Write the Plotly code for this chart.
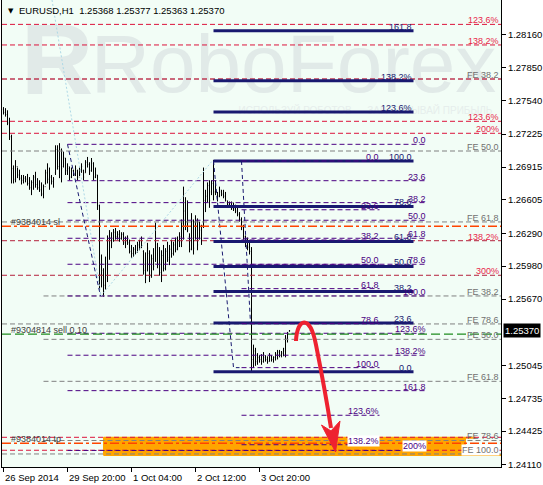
import plotly.graph_objects as go

# ---------------- data ----------------
bar_open = [
1.2746,1.2743,1.2741,1.2733,1.2720,1.2690,1.2680,1.2692,1.2684,1.2681,
1.2679,1.2681,1.2680,1.2676,1.2672,1.2677,1.2682,1.2675,1.2672,1.2670,
1.2666,1.2673,1.2686,1.2680,1.2682,1.2678,1.2686,1.2708,1.2692,1.2708,
1.2692,1.2700,1.2688,1.2690,1.2682,1.2688,1.2685,1.2688,1.2682,1.2689,
1.2688,1.2686,1.2696,1.2694,1.2688,1.2695,1.2682,1.2684,1.2655,1.2590,
1.2594,1.2580,1.2600,1.2622,1.2625,1.2622,1.2630,1.2626,1.2628,1.2624,
1.2628,1.2620,1.2622,1.2620,1.2612,1.2610,1.2614,1.2611,1.2618,1.2616,
1.2612,1.2594,1.2600,1.2610,1.2590,1.2605,1.2600,1.2616,1.2600,1.2592,
1.2608,1.2596,1.2612,1.2604,1.2614,1.2610,1.2618,1.2614,1.2622,1.2626,
1.2638,1.2650,1.2640,1.2626,1.2614,1.2640,1.2625,1.2640,1.2625,1.2632,
1.2636,1.2660,1.2664,1.2674,1.2668,1.2676,1.2668,1.2667,1.2664,1.2668,
1.2666,1.2664,1.2658,1.2656,1.2655,1.2653,1.2652,1.2650,1.2647,1.2642,
1.2635,1.2626,1.2620,1.2616,1.2612,1.2510,1.2518,1.2508,1.2512,1.2510,
1.2508,1.2512,1.2510,1.2508,1.2513,1.2510,1.2512,1.2515,1.2517,1.2514,
1.2516,1.2518,1.2530,1.25368]
bar_high = [
1.2748,1.2747,1.2745,1.2738,1.2722,1.2693,1.2698,1.2691,1.2689,1.2684,
1.2684,1.2683,1.2685,1.2682,1.2679,1.2684,1.2687,1.2681,1.2679,1.2677,
1.2675,1.2689,1.2695,1.2691,1.2684,1.2682,1.2712,1.2712,1.2714,1.2709,
1.2706,1.2700,1.2695,1.2692,1.2691,1.2689,1.2693,1.2689,1.2691,1.2695,
1.2689,1.2698,1.2701,1.2696,1.2700,1.2696,1.2691,1.2684,1.2656,1.2609,
1.2596,1.2607,1.2627,1.2632,1.2630,1.2633,1.2634,1.2631,1.2632,1.2630,
1.2630,1.2626,1.2627,1.2623,1.2618,1.2616,1.2618,1.2621,1.2623,1.2626,
1.2613,1.2611,1.2620,1.2613,1.2609,1.2615,1.2639,1.2620,1.2616,1.2613,
1.2618,1.2615,1.2621,1.2618,1.2623,1.2621,1.2625,1.2626,1.2630,1.2642,
1.2673,1.2663,1.2660,1.2629,1.2648,1.2642,1.2646,1.2643,1.2640,1.2637,
1.2691,1.2670,1.2677,1.2679,1.2679,1.2698,1.2679,1.2668,1.2673,1.2670,
1.2670,1.2668,1.2660,1.2659,1.2659,1.2658,1.2656,1.2654,1.2649,1.2644,
1.2637,1.2627,1.2625,1.2621,1.2616,1.2524,1.2521,1.2516,1.2514,1.2515,
1.2517,1.2514,1.2513,1.2516,1.2514,1.2513,1.2517,1.2519,1.2519,1.2518,
1.2521,1.2533,1.2536,1.25377]
bar_low = [
1.2741,1.2739,1.2731,1.2717,1.2676,1.2676,1.2677,1.2681,1.2679,1.2675,
1.2676,1.2677,1.2674,1.2670,1.2665,1.2670,1.2672,1.2670,1.2668,1.2664,
1.2662,1.2675,1.2676,1.2670,1.2675,1.2672,1.2684,1.2689,1.2681,1.2677,
1.2691,1.2684,1.2684,1.2679,1.2681,1.2683,1.2683,1.2679,1.2683,1.2686,
1.2679,1.2686,1.2691,1.2684,1.2687,1.2679,1.2681,1.2651,1.2576,1.2578,
1.2569,1.2576,1.2583,1.2604,1.2615,1.2621,1.2623,1.2623,1.2621,1.2623,
1.2618,1.2615,1.2618,1.2610,1.2606,1.2607,1.2609,1.2611,1.2613,1.2615,
1.2590,1.2582,1.2593,1.2583,1.2587,1.2594,1.2602,1.2596,1.2589,1.2583,
1.2593,1.2594,1.2602,1.2599,1.2606,1.2608,1.2611,1.2613,1.2616,1.2616,
1.2623,1.2632,1.2630,1.2611,1.2613,1.2609,1.2623,1.2613,1.2623,1.2618,
1.2634,1.2649,1.2658,1.2653,1.2665,1.2660,1.2665,1.2659,1.2663,1.2664,
1.2662,1.2659,1.2654,1.2653,1.2651,1.2650,1.2648,1.2645,1.2640,1.2632,
1.2623,1.2616,1.2613,1.2609,1.2498,1.2502,1.2504,1.2505,1.2507,1.2505,
1.2507,1.2508,1.2506,1.2508,1.2508,1.2507,1.2509,1.2510,1.2512,1.2512,
1.2513,1.2512,1.2526,1.25363]
bar_close = [
1.2743,1.2741,1.2733,1.2720,1.2690,1.2680,1.2692,1.2684,1.2681,1.2679,
1.2681,1.2680,1.2676,1.2672,1.2677,1.2682,1.2675,1.2672,1.2670,1.2666,
1.2673,1.2686,1.2680,1.2682,1.2678,1.2680,1.2708,1.2692,1.2710,1.2690,
1.2700,1.2688,1.2692,1.2682,1.2688,1.2685,1.2690,1.2682,1.2689,1.2692,
1.2682,1.2696,1.2694,1.2688,1.2697,1.2682,1.2684,1.2655,1.2590,1.2600,
1.2580,1.2600,1.2624,1.2625,1.2620,1.2630,1.2626,1.2628,1.2624,1.2628,
1.2620,1.2622,1.2620,1.2612,1.2610,1.2614,1.2611,1.2618,1.2616,1.2622,
1.2594,1.2600,1.2615,1.2588,1.2605,1.2598,1.2618,1.2600,1.2592,1.2608,
1.2596,1.2612,1.2606,1.2614,1.2610,1.2618,1.2614,1.2622,1.2626,1.2638,
1.2650,1.2640,1.2632,1.2614,1.2640,1.2615,1.2640,1.2618,1.2635,1.2636,
1.2660,1.2664,1.2674,1.2660,1.2676,1.2668,1.2670,1.2664,1.2670,1.2666,
1.2664,1.2660,1.2656,1.2655,1.2653,1.2652,1.2650,1.2647,1.2642,1.2635,
1.2626,1.2620,1.2616,1.2612,1.2510,1.2518,1.2508,1.2512,1.2510,1.2508,
1.2514,1.2510,1.2508,1.2514,1.2510,1.2512,1.2515,1.2517,1.2514,1.2516,
1.2520,1.2530,1.2535,1.25370]
bar_index = list(range(len(bar_close)))

y_ticks = [1.28160, 1.27850, 1.27540, 1.27225, 1.26915, 1.26605, 1.26290,
           1.25980, 1.25670, 1.25045, 1.24735, 1.24425, 1.24110]
x_tick_pos = [0, 32, 64, 96, 128]
x_tick_labels = ["26 Sep 2014", "29 Sep 20:00", "1 Oct 04:00", "2 Oct 12:00", "3 Oct 20:00"]

header = "EURUSD,H1  1.25368 1.25377 1.25363 1.25370"
current_price = 1.25370

# red fibo expansion levels (full width)
red_levels = [1.28260, 1.28066, 1.27745, 1.27346, 1.27233, 1.24366, 1.24244]
red_labels = ["123.6%", "138.2%", "", "123.6%", "200%", "", ""]
red_dark_levels = [1.26220, 1.25894]
red_dark_labels = ["138.2%", "300%"]

# grey FE levels
fe_a_levels = [1.27745, 1.27066, 1.26397, 1.25435, 1.24209]
fe_a_labels = ["FE 38.2", "FE 50.0", "FE 61.8", "FE 78.6", "FE 100.0"]
fe_b_levels = [1.25699, 1.25290, 1.24894, 1.24336]
fe_b_labels = ["FE 38.2", "FE 50.0", "FE 61.8", "FE 78.6"]

# purple fibo (from 29 Sep high)
c_levels = [1.27129, 1.26786, 1.26579, 1.26413, 1.26243, 1.25998, 1.25699,
            1.25347, 1.25140, 1.24806, 1.24242]
c_labels = ["0.0", "23.6", "38.2", "50.0", "61.8", "78.6", "100.0",
            "123.6%", "138.2%", "161.8", "200%"]

# purple fibo (from 2 Oct high)
b_levels = [1.26972, 1.26512, 1.26227, 1.25997, 1.25768, 1.25439, 1.25023,
            1.24574, 1.24296]
b_labels = ["0.0", "23.6", "38.2", "50.0", "61.8", "78.6", "100.0",
            "123.6%", "138.2%"]

# navy fibo (solid)
a_levels = [1.24985, 1.25444, 1.25740, 1.25977, 1.26213, 1.26543, 1.26972,
            1.27434, 1.27729, 1.28200]
a_labels = ["0.0", "23.6", "38.2", "50.0", "61.8", "78.6", "100.0",
            "123.6%", "138.2%", "161.8"]

sl_price = 1.26356
tp_price = 1.24310
sell_price = 1.25340
sl_text = "#9384014 sl"
tp_text = "#9384014 tp"
sell_text = "#9304814 sell 0.10"

target_zone = [1.24199, 1.24364]

# trend / anchor lines (bar index, price)
blue_trend_x = [24.25, 48.75, 104.75]
blue_trend_y = [1.28490, 1.25699, 1.26981]
anchor_lines = [
    ([32, 48.5], [1.27129, 1.25699]),
    ([105, 115, 118], [1.26972, 1.25023, 1.25023]),
    ([119, 123.5], [1.26972, 1.25444]),
]

# ---------------- figure ----------------
FONT = "Liberation Sans, Arial, sans-serif"
XMIN, XMAX = -0.75, 248.75
YMIN, YMAX = 1.24086, 1.28490

fig = go.Figure()

# target zone (below everything)
fig.add_trace(go.Scatter(x=[50, 231, 231, 50, 50],
                         y=[target_zone[0], target_zone[0], target_zone[1], target_zone[1], target_zone[0]],
                         mode="lines", fill="toself", fillcolor="#FFA500",
                         line=dict(color="#FFA500", width=1), hoverinfo="skip", showlegend=False))
fig.add_trace(go.Scatter(x=[50, 248.75], y=[target_zone[0], target_zone[0]], mode="lines",
                         line=dict(color="#FFA500", width=2), hoverinfo="skip", showlegend=False))
fig.add_trace(go.Scatter(x=[50, 236], y=[target_zone[1] - 0.00003, target_zone[1] - 0.00003], mode="lines",
                         line=dict(color="#FFA500", width=2), hoverinfo="skip", showlegend=False))

# watermark
WM = "#E1EAE8"
fig.add_trace(go.Scatter(x=[145], y=[1.27815], mode="text", text=["RoboForex"],
                         textfont=dict(size=82, color=WM, family=FONT), hoverinfo="skip", showlegend=False))
fig.add_trace(go.Scatter(x=[26.75], y=[1.27840], mode="text", text=["<b>R</b>"],
                         textfont=dict(size=100, color=WM, family=FONT), hoverinfo="skip", showlegend=False))
fig.add_trace(go.Scatter(x=[181], y=[1.27440], mode="text",
                         text=["ИСПОЛЬЗУЙ РОБОТОВ — ЗАРАБАТЫВАЙ ПРИБЫЛЬ"],
                         textfont=dict(size=10, color="#E6EEEC", family=FONT), hoverinfo="skip", showlegend=False))


def hlines(levels, x0, x1, color, dash, width):
    xs, ys = [], []
    for lv in levels:
        xs += [x0, x1, None]
        ys += [lv, lv, None]
    fig.add_trace(go.Scatter(x=xs, y=ys, mode="lines",
                             line=dict(color=color, dash=dash, width=width),
                             hoverinfo="skip", showlegend=False, connectgaps=False))


DASH = "5px,3px"
GREY = "#808080"
RED = "#DC143C"
RED_D = "#B4203C"
PURPLE = "#4B0082"
NAVY = "#191970"

hlines(fe_a_levels, XMIN, XMAX, GREY, DASH, 1)
hlines(fe_b_levels, 20, XMAX, GREY, DASH, 1)
hlines(red_levels, XMIN, XMAX, RED, DASH, 1)
hlines(red_dark_levels, XMIN, XMAX, RED_D, DASH, 1)
hlines(c_levels, 32, 211, PURPLE, DASH, 1)
hlines(a_levels, 105, 205, NAVY, "solid", 3)
hlines(b_levels, 119, 188, PURPLE, DASH, 1)

# trend lines
fig.add_trace(go.Scatter(x=blue_trend_x, y=blue_trend_y, mode="lines",
                         line=dict(color="#ADD8E6", dash="2px,2px", width=1),
                         hoverinfo="skip", showlegend=False))
for lx, ly in anchor_lines:
    fig.add_trace(go.Scatter(x=lx, y=ly, mode="lines",
                             line=dict(color=NAVY, dash="4px,3px", width=1),
                             hoverinfo="skip", showlegend=False))

# order lines
hlines([sl_price, tp_price], XMIN, XMAX, "#FF4500", "9px,3px,3px,3px", 1.4)
hlines([sell_price], XMIN, XMAX, "#1E8C1E", "9px,4px", 1.3)

# price bars
fig.add_trace(go.Ohlc(x=bar_index, open=bar_open, high=bar_high, low=bar_low, close=bar_close,
                      increasing=dict(line=dict(color="black", width=1)),
                      decreasing=dict(line=dict(color="black", width=1)),
                      tickwidth=0.3, hoverinfo="skip", showlegend=False))

ann = []


def labels(levels, texts, x, color, bg=None):
    for lv, t in zip(levels, texts):
        if not t:
            continue
        a = dict(x=x, y=lv, xref="x", yref="y", text=t, showarrow=False,
                 xanchor="right", yanchor="bottom", yshift=-2, borderpad=0,
                 font=dict(family=FONT, size=9, color=color))
        if bg:
            a["bgcolor"] = bg
        ann.append(a)


labels(a_levels, a_labels, 204.5, NAVY)
labels(b_levels[:-1], b_labels[:-1], 188, PURPLE)
labels(b_levels[-1:], b_labels[-1:], 188, PURPLE, bg="white")
labels(c_levels[:-1], c_labels[:-1], 211.5, PURPLE)
labels(c_levels[-1:], c_labels[-1:], 211.5, PURPLE, bg="white")
labels(red_levels, red_labels, 248, "#E8254A")
labels(red_dark_levels, red_dark_labels, 248, "#E8254A")
labels(fe_a_levels[:-1], fe_a_labels[:-1], 248, "#707070")
labels(fe_a_levels[-1:], fe_a_labels[-1:], 248, "#707070", bg="white")
labels(fe_b_levels, fe_b_labels, 248, "#707070")

for t, p in [(sl_text, sl_price), (sell_text, sell_price), (tp_text, tp_price)]:
    ann.append(dict(x=3.25, y=p, xref="x", yref="y", text=t, showarrow=False,
                    xanchor="left", yanchor="bottom", yshift=-2, borderpad=0,
                    font=dict(family=FONT, size=9, color="#404040")))

# header
ann.append(dict(x=0, y=1, xref="paper", yref="paper", text="▼", showarrow=False,
                xanchor="left", yanchor="top", xshift=4, yshift=-5,
                font=dict(family="DejaVu Sans", size=7, color="black")))
ann.append(dict(x=0, y=1, xref="paper", yref="paper", text=header, showarrow=False,
                xanchor="left", yanchor="top", xshift=15, yshift=-3,
                font=dict(family=FONT, size=9.5, color="black")))

# x tick labels
for p, t in zip(x_tick_pos, x_tick_labels):
    ann.append(dict(x=p, y=0, xref="x", yref="paper", text=t, showarrow=False,
                    xanchor="left", yanchor="top", yshift=-3, xshift=-1,
                    font=dict(family=FONT, size=9.5, color="black")))

# current price box
ann.append(dict(x=1, y=current_price, xref="paper", yref="y", text=f"{current_price:.5f}",
                showarrow=False, xanchor="left", yanchor="middle", xshift=2,
                bgcolor="black", borderpad=1,
                font=dict(family=FONT, size=9.5, color="white")))

# red forecast arrow
shapes = [
    dict(type="path", xref="x", yref="y",
         path="M 146.25,1.25274 C 146.75,1.25491 153.25,1.25538 156.25,1.25237 Q 160.75,1.24812 163.75,1.24454",
         line=dict(color="#EE2230", width=4)),
    dict(type="path", xref="x", yref="y",
         path="M 159,1.24482 L 163.75,1.24426 L 168.25,1.24520 L 166,1.24228 Z",
         fillcolor="#EE2230", line=dict(color="#EE2230", width=1)),
]

fig.update_layout(
    width=543, height=485,
    margin=dict(l=2, r=42, t=0, b=18),
    paper_bgcolor="white", plot_bgcolor="#F2FDF6",
    showlegend=False,
    annotations=ann, shapes=shapes,
    xaxis=dict(range=[XMIN, XMAX], showgrid=False, zeroline=False,
               showline=True, linecolor="black", linewidth=1,
               ticks="outside", ticklen=4, tickcolor="black",
               tickvals=x_tick_pos, showticklabels=False,
               rangeslider=dict(visible=False), fixedrange=True),
    yaxis=dict(range=[YMIN, YMAX], side="right", showgrid=False, zeroline=False,
               showline=True, mirror=True, linecolor="black", linewidth=1,
               ticks="outside", ticklen=4, tickcolor="black",
               tickmode="array", tickvals=y_ticks, ticktext=[f"{v:.5f}" for v in y_ticks],
               tickfont=dict(family=FONT, size=9.5, color="black"), fixedrange=True),
)

fig.write_html("out.html", config={"displayModeBar": False},
               post_script="document.body.style.margin='0px';document.body.style.overflow='hidden';")
